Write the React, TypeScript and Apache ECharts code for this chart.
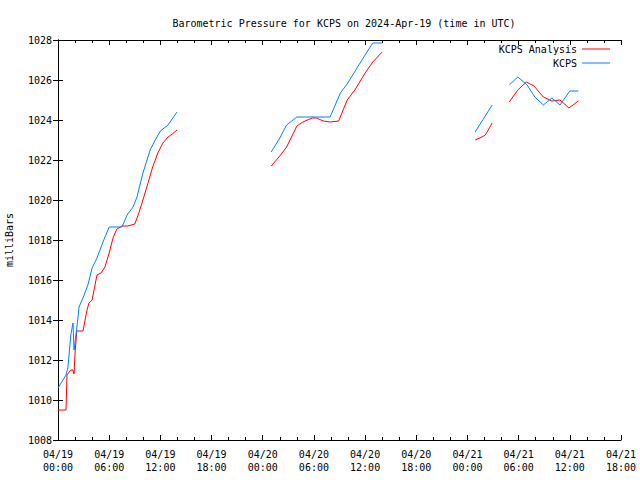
import React, { useEffect, useRef } from "react";
import * as echarts from "echarts";

const TITLE = "Barometric Pressure for KCPS on 2024-Apr-19 (time in UTC)";
const Y_NAME = "milliBars";
const SERIES_NAMES = ["KCPS Analysis", "KCPS"];

// hours since 2024-04-19 00:00 UTC; null value = data gap
const analysisHours = [
  0, 0.94, 1.05, 1.5, 1.76, 1.88, 2.0, 2.2, 2.93, 3.4, 3.63, 4.0, 4.34, 4.57, 5.04, 5.5, 6.0, 6.45, 6.9, 7.5,
  8.2, 9.0, 9.4, 9.96, 10.55, 11.1, 11.7, 12.3, 12.9, 13.4, 13.95, 19,
  25, 26, 26.8, 28, 28.7, 29.8, 30.3, 31.1, 31.9, 32.9, 33.9, 34.8, 36, 36.9, 38, 43,
  48.9, 49.7, 50.1, 50.9, 52,
  52.9, 53.9, 54.9, 55.8, 56.9, 57.9, 58.85, 59.9, 61,
];
const analysisValues = [
  1009.5, 1009.5, 1011.25, 1011.5, 1011.5, 1011.3, 1012.35, 1013.45, 1013.45, 1014.5, 1014.85, 1015.0, 1015.75,
  1016.25, 1016.35, 1016.65, 1017.35, 1018.1, 1018.55, 1018.7, 1018.7, 1018.8, 1019.25, 1020.0, 1020.85, 1021.65,
  1022.35, 1022.85, 1023.15, 1023.3, 1023.5, null,
  1021.7, 1022.2, 1022.65, 1023.7, 1023.9, 1024.1, 1024.1, 1023.95, 1023.9, 1023.95, 1025.0, 1025.5, 1026.35,
  1026.9, 1027.4, null,
  1023.0, 1023.15, 1023.25, 1023.85, null,
  1024.9, 1025.5, 1025.9, 1025.7, 1025.15, 1024.95, 1025.0, 1024.6, 1024.95,
];

const obsHours = [
  0, 0.94, 1.17, 1.5, 1.76, 1.88, 2.1, 2.34, 2.46, 2.93, 3.5, 4.0, 4.57, 5.27, 6.0, 7.5, 8.1, 8.8, 9.26, 9.96,
  10.8, 11.4, 12.0, 12.9, 13.95, 19,
  25, 26, 26.8, 27.4, 28, 31.9, 32.5, 33.1, 33.9, 35.05, 36, 36.9, 38, 43,
  48.9, 50.9, 52,
  52.9, 53.9, 55, 55.9, 56.9, 57.9, 58.85, 60, 61,
];
const obsValues = [
  1010.6, 1011.25, 1011.65, 1013.25, 1013.85, 1012.5, 1013.25, 1014.1, 1014.65, 1015.1, 1015.75, 1016.6, 1017.1,
  1017.9, 1018.65, 1018.65, 1019.25, 1019.65, 1020.15, 1021.35, 1022.5, 1023.0, 1023.45, 1023.75, 1024.4, null,
  1022.4, 1023.1, 1023.75, 1023.95, 1024.15, 1024.15, 1024.75, 1025.35, 1025.8, 1026.6, 1027.25, 1027.85, 1027.85, null,
  1023.4, 1024.75, null,
  1025.75, 1026.15, 1025.75, 1025.15, 1024.75, 1025.1, 1024.75, 1025.45, 1025.45,
];

const xTickLabels = [
  "04/19\n00:00", "04/19\n06:00", "04/19\n12:00", "04/19\n18:00",
  "04/20\n00:00", "04/20\n06:00", "04/20\n12:00", "04/20\n18:00",
  "04/21\n00:00", "04/21\n06:00", "04/21\n12:00", "04/21\n18:00",
];

const X_MIN = 0;
const X_MAX = 66;
const X_STEP = 6;
const Y_MIN = 1008;
const Y_MAX = 1028;
const Y_STEP = 2;

const FONT = "DejaVu Sans Mono";

function pairs(xs: number[], ys: (number | null)[]) {
  return xs.map((x, i) => [x, ys[i] === null ? null : ys[i]]);
}

export default function App() {
  const ref = useRef<HTMLDivElement>(null);
  useEffect(() => {
    if (!ref.current) return;
    const chart = echarts.init(ref.current, undefined, { renderer: "svg" });
    const axisLine = { show: true, lineStyle: { color: "#000", width: 1 } };
    const xCommon = {
      type: "value",
      min: X_MIN,
      max: X_MAX,
      interval: X_STEP,
      axisLine,
      axisTick: { show: true, inside: true, length: 5, lineStyle: { color: "#000" } },
      minorTick: { show: true, splitNumber: 3, length: 3, lineStyle: { color: "#000" } },
      splitLine: { show: false },
    };
    const yCommon = {
      type: "value",
      min: Y_MIN,
      max: Y_MAX,
      interval: Y_STEP,
      axisLine,
      axisTick: { show: true, inside: true, length: 5, lineStyle: { color: "#000" } },
      splitLine: { show: false },
    };
    chart.setOption({
      animation: false,
      backgroundColor: "#fff",
      title: {
        text: TITLE,
        left: 339,
        top: 13,
        textAlign: "center",
        textStyle: { fontFamily: FONT, fontSize: 10, fontWeight: "normal", color: "#000" },
      },
      grid: { left: 58, right: 19, top: 40, bottom: 40, containLabel: false, outerBoundsMode: "none" },
      legend: {
        orient: "vertical",
        right: 25,
        top: 39,
        align: "right",
        icon: "rect",
        itemWidth: 28,
        itemHeight: 1,
        itemGap: 4,
        textStyle: { fontFamily: FONT, fontSize: 10, color: "#000" },
        data: SERIES_NAMES,
      },
      xAxis: [
        {
          ...xCommon,
          position: "bottom",
          axisLabel: {
            show: true,
            margin: 8,
            fontFamily: FONT,
            fontSize: 10,
            color: "#000",
            lineHeight: 13,
            formatter: (v: number) => xTickLabels[Math.round((v - X_MIN) / X_STEP)] ?? "",
          },
        },
        { ...xCommon, position: "top", axisLabel: { show: false } },
      ],
      yAxis: [
        {
          ...yCommon,
          position: "left",
          name: Y_NAME,
          nameLocation: "middle",
          nameGap: 44,
          nameRotate: 90,
          nameTextStyle: { fontFamily: FONT, fontSize: 10, color: "#000" },
          axisLabel: {
            show: true,
            margin: 6,
            fontFamily: FONT,
            fontSize: 10,
            color: "#000",
            formatter: (v: number) => String(v),
          },
        },
        { ...yCommon, position: "right", axisLabel: { show: false } },
      ],
      series: [
        {
          name: SERIES_NAMES[0],
          type: "line",
          xAxisIndex: 0,
          yAxisIndex: 0,
          data: pairs(analysisHours, analysisValues),
          showSymbol: false,
          symbol: "none",
          connectNulls: false,
          color: "#ff0000",
          lineStyle: { color: "#ff0000", width: 1 },
        },
        {
          name: SERIES_NAMES[1],
          type: "line",
          xAxisIndex: 0,
          yAxisIndex: 0,
          data: pairs(obsHours, obsValues),
          showSymbol: false,
          symbol: "none",
          connectNulls: false,
          color: "#0080ff",
          lineStyle: { color: "#0080ff", width: 1 },
        },
      ],
    });
    return () => chart.dispose();
  }, []);
  return (
    <div
      ref={ref}
      style={{ position: "fixed", left: 0, top: 0, width: 640, height: 480, background: "#fff" }}
    />
  );
}
